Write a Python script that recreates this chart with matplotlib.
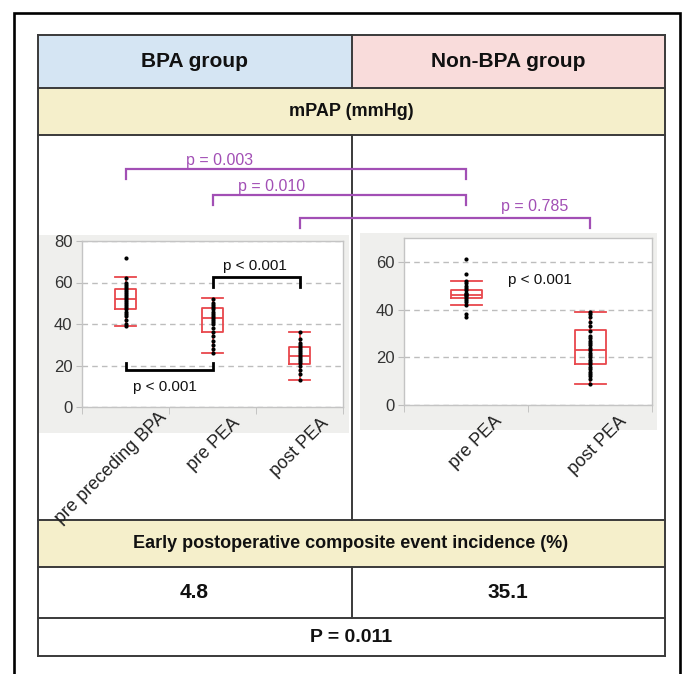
import matplotlib
matplotlib.use('Agg')
import matplotlib.pyplot as plt
import numpy as np
from matplotlib.patches import Rectangle
from matplotlib.transforms import ScaledTranslation

plt.rcParams['font.family'] = ['Liberation Sans', 'DejaVu Sans']

# ---------------- data ----------------
bpa_categories = ['pre preceding BPA', 'pre PEA', 'post PEA']
bpa_q1 = [47, 36, 20.5]
bpa_med = [52, 43, 24.5]
bpa_q3 = [57, 47.5, 29]
bpa_whislo = [39, 26, 13]
bpa_whishi = [62.5, 52.5, 36]
bpa_points = [
    [72, 62, 60, 59, 58, 57, 56, 55, 54, 53, 52, 51, 50, 49, 48, 47, 46, 45, 44, 42, 40, 39],
    [52, 50, 49, 48, 47, 46, 45, 44, 43, 42, 41, 40, 38, 36, 34, 32, 30, 28, 26],
    [36, 33, 31, 30, 29, 28, 27, 26, 25, 24, 23, 22, 21, 20, 18, 16, 13],
]
nonbpa_categories = ['pre PEA', 'post PEA']
nonbpa_q1 = [45, 17]
nonbpa_med = [46.2, 23]
nonbpa_q3 = [48.3, 31.3]
nonbpa_whislo = [42, 9]
nonbpa_whishi = [52, 39]
nonbpa_points = [
    [61, 55, 52, 51, 50, 49, 48, 47, 46.5, 46, 45.5, 45, 44, 43, 42, 38, 37],
    [39, 38, 37, 35, 33, 31, 29, 28, 27, 26, 25, 24, 23, 22, 21, 20, 19, 18,
     17, 16, 15, 14, 13, 12, 11, 9],
]
bpa_within_p = ['p < 0.001', 'p < 0.001']
nonbpa_within_p = 'p < 0.001'
between_p = ['p = 0.003', 'p = 0.010', 'p = 0.785']
group_titles = ['BPA group', 'Non-BPA group']
row_titles = ['mPAP (mmHg)', 'Early postoperative composite event incidence (%)']
incidence = ['4.8', '35.1']
incidence_p = 'P = 0.011'

# ---------------- style ----------------
W, H = 682, 674
RED = '#E8474C'
PURPLE = '#A24FB5'
LINE = '#3a3a3a'
BLUE = '#D5E5F3'
PINK = '#F9DCDB'
YELLOW = '#F5EFCB'
PANEL = '#EFEFED'

fig = plt.figure(figsize=(W / 100, H / 100), dpi=100)
bg = fig.add_axes([0, 0, 1, 1])
bg.set_xlim(0, W)
bg.set_ylim(H, 0)
bg.axis('off')


def fax(x0, y0, x1, y1):
    return fig.add_axes([x0 / W, 1 - y1 / H, (x1 - x0) / W, (y1 - y0) / H])


# table geometry (pixels)
TL, TR, TM = 37.5, 664.5, 351.5
rows = [35, 88, 135, 520, 567, 618, 656]

# cell fills
bg.add_patch(Rectangle((TL, rows[0]), TM - TL, rows[1] - rows[0], fc=BLUE, ec='none'))
bg.add_patch(Rectangle((TM, rows[0]), TR - TM, rows[1] - rows[0], fc=PINK, ec='none'))
bg.add_patch(Rectangle((TL, rows[1]), TR - TL, rows[2] - rows[1], fc=YELLOW, ec='none'))
bg.add_patch(Rectangle((TL, rows[3]), TR - TL, rows[4] - rows[3], fc=YELLOW, ec='none'))

# grey plot panels
bg.add_patch(Rectangle((38.5, 235), 310, 198, fc=PANEL, ec='none'))
bg.add_patch(Rectangle((360, 233), 297, 197, fc=PANEL, ec='none'))

# table lines
for y in rows:
    bg.plot([TL, TR], [y, y], color=LINE, lw=1.4, solid_capstyle='projecting')
bg.plot([TL, TL], [rows[0], rows[-1]], color=LINE, lw=1.4)
bg.plot([TR, TR], [rows[0], rows[-1]], color=LINE, lw=1.4)
for a, b in [(0, 1), (2, 3), (4, 5)]:
    bg.plot([TM, TM], [rows[a], rows[b]], color=LINE, lw=1.4)

# outer frame
bg.plot([13.5, 13.5, 679.5, 679.5], [680, 12.5, 12.5, 680], color='black', lw=1.9,
        solid_joinstyle='miter', clip_on=False)

# table texts
bg.text((TL + TM) / 2, (rows[0] + rows[1]) / 2, group_titles[0], ha='center', va='center',
        fontsize=15, fontweight='bold', color='#111')
bg.text((TM + TR) / 2, (rows[0] + rows[1]) / 2, group_titles[1], ha='center', va='center',
        fontsize=15, fontweight='bold', color='#111')
bg.text((TL + TR) / 2, (rows[1] + rows[2]) / 2, row_titles[0], ha='center', va='center',
        fontsize=13, fontweight='bold', color='#111')
bg.text((TL + TR) / 2, (rows[3] + rows[4]) / 2, row_titles[1], ha='center', va='center',
        fontsize=13, fontweight='bold', color='#111')
bg.text((TL + TM) / 2, (rows[4] + rows[5]) / 2, incidence[0], ha='center', va='center',
        fontsize=15, fontweight='bold', color='#111')
bg.text((TM + TR) / 2, (rows[4] + rows[5]) / 2, incidence[1], ha='center', va='center',
        fontsize=15, fontweight='bold', color='#111')
bg.text((TL + TR) / 2, (rows[5] + rows[6]) / 2, incidence_p, ha='center', va='center',
        fontsize=14, fontweight='bold', color='#111')


def box_axes(ax, cats, q1, med, q3, lo, hi, pts, ymax, yticks, offsets):
    n = len(cats)
    stats = [dict(med=med[i], q1=q1[i], q3=q3[i], whislo=lo[i], whishi=hi[i], fliers=[])
             for i in range(n)]
    lp = dict(color=RED, lw=1.3)
    ax.bxp(stats, positions=list(range(n)), widths=0.25, capwidths=0.25, showfliers=False,
           boxprops=lp, whiskerprops=lp, capprops=lp, medianprops=lp)
    for i, vals in enumerate(pts):
        ax.plot([i] * len(vals), vals, 'o', color='black', ms=3.0, mec='none', zorder=5)
    ax.set_xlim(-0.5, n - 0.5)
    ax.set_ylim(0, ymax)
    ax.set_yticks(yticks)
    ax.set_facecolor('white')
    for s in ax.spines.values():
        s.set_color('#C4C4C4')
        s.set_linewidth(1)
    ax.yaxis.grid(True, ls=(0, (4, 3)), color='#BDBDBD', lw=1)
    ax.set_axisbelow(True)
    ax.tick_params(axis='y', length=4, color='#BDBDBD', labelsize=12, labelcolor='#333333',
                   pad=3)
    ax.set_xticks(list(range(n)))
    ax.set_xticklabels(cats, rotation=45, ha='right', va='center', rotation_mode='anchor',
                       fontsize=13, color='#222222')
    ax.set_xticks(np.arange(-0.5, n, 1), minor=True)
    ax.tick_params(axis='x', which='major', length=0, pad=10)
    ax.tick_params(axis='x', which='minor', length=5, color='#BDBDBD')
    for lab, (dx, dy) in zip(ax.get_xticklabels(), offsets):
        lab.set_transform(lab.get_transform() +
                          ScaledTranslation(dx / 100, dy / 100, fig.dpi_scale_trans))
        lab.set_clip_on(False)


ax1 = fax(82, 241, 343, 407)
box_axes(ax1, bpa_categories, bpa_q1, bpa_med, bpa_q3, bpa_whislo, bpa_whishi, bpa_points,
         80, [0, 20, 40, 60, 80], [(39, 6), (25, 0), (27, 0)])
ax2 = fax(404, 238, 652, 405)
box_axes(ax2, nonbpa_categories, nonbpa_q1, nonbpa_med, nonbpa_q3, nonbpa_whislo,
         nonbpa_whishi, nonbpa_points, 70, [0, 20, 40, 60], [(33, 0), (34, 0)])

# within-group brackets
ax1.plot([0, 0, 1, 1], [21, 17.8, 17.8, 21], color='black', lw=2, solid_joinstyle='miter',
         zorder=6)
ax1.text(0.45, 9.7, bpa_within_p[0], ha='center', va='center', fontsize=11, color='#111')
ax1.plot([1, 1, 2, 2], [58, 62.7, 62.7, 58], color='black', lw=2, solid_joinstyle='miter',
         zorder=6)
ax1.text(1.49, 68, bpa_within_p[1], ha='center', va='center', fontsize=11, color='#111')
ax2.text(0.6, 52.4, nonbpa_within_p, ha='center', va='center', fontsize=11, color='#111')


# between-group brackets (purple)
def px(ax, x):
    d = ax.transData.transform((x, 0))
    return bg.transData.inverted().transform(d)[0]


brackets = [((ax1, 0), (ax2, 0), 169, 179, (220, 160)),
            ((ax1, 1), (ax2, 0), 195, 205, (272, 186)),
            ((ax1, 2), (ax2, 1), 218, 228, (535, 207))]
for k, ((a1, c1), (a2, c2), yh, yl, (tx, ty)) in enumerate(brackets):
    x1 = px(a1, c1)
    x2 = px(a2, c2)
    bg.plot([x1, x1, x2, x2], [yl, yh, yh, yl], color=PURPLE, lw=1.6, solid_joinstyle='miter',
            zorder=3)
    bg.text(tx, ty, between_p[k], ha='center', va='center', fontsize=11.5, color=PURPLE)

fig.savefig('out.png', dpi=100)
